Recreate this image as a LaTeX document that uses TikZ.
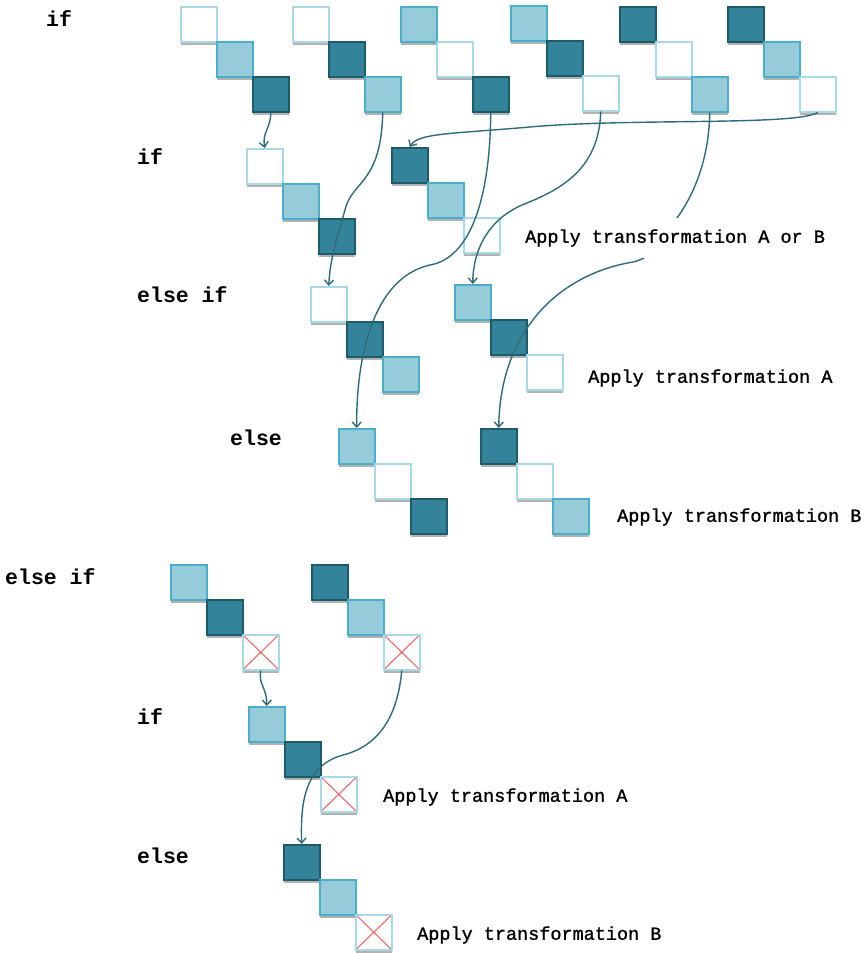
\documentclass[tikz,border=0pt]{standalone}
\usepackage{fontspec}
\newfontfamily\cour{Liberation Mono}
\newfontfamily\courm{Liberation Mono}[FakeBold=1.2]
\usetikzlibrary{shadows,arrows.meta}
\definecolor{lfill}{HTML}{96CBDA}
\definecolor{ldraw}{HTML}{4AAFCB}
\definecolor{dfill}{HTML}{33849A}
\definecolor{ddraw}{HTML}{1F5A69}
\definecolor{wdraw}{HTML}{A8D9E8}
\definecolor{arrowc}{HTML}{2F6B79}
\definecolor{redx}{HTML}{F06868}
\newcommand\mygroup[6]{%
  \node[sq,#4] (#1a) at (#2,#3) {};
  \node[sq,#5] (#1b) at (#2+36,#3+35) {};
  \node[sq,#6] (#1c) at (#2+72,#3+70) {};}
\begin{document}
\begin{tikzpicture}[x=1pt,y=-1pt,
  sq/.style={anchor=north west, minimum width=36pt, minimum height=35pt, inner sep=0pt,
    line width=1.5pt, drop shadow={shadow xshift=0pt, shadow yshift=-3pt, opacity=0.55, fill=black!55}},
  cellL/.style={fill=lfill, draw=ldraw},
  cellD/.style={fill=dfill, draw=ddraw},
  cellW/.style={fill=white, draw=wdraw},
  cellX/.style={fill=white, draw=wdraw, path picture={
     \draw[redx, line width=1.1pt] (path picture bounding box.north west) -- (path picture bounding box.south east)
       (path picture bounding box.north east) -- (path picture bounding box.south west);}},
  conn/.style={draw=arrowc, line width=1.4pt, -{Straight Barb[length=5pt,width=9pt]}},
  kw/.style={anchor=west, inner sep=0pt, font=\cour\bfseries\fontsize{21.5}{24}\selectfont},
  note/.style={anchor=west, inner sep=0pt, font=\courm\fontsize{18.5}{22}\selectfont}]
\useasboundingbox (0,0) rectangle (861,953);

% top row
\mygroup{ga}{180}{6}{cellW}{cellL}{cellD}
\mygroup{gb}{292}{6}{cellW}{cellD}{cellL}
\mygroup{gc}{400}{6}{cellL}{cellW}{cellD}
\mygroup{gd}{510}{5}{cellL}{cellD}{cellW}
\mygroup{ge}{619}{6}{cellD}{cellW}{cellL}
\mygroup{gf}{727}{6}{cellD}{cellL}{cellW}
% if
\mygroup{ha}{246}{148}{cellW}{cellL}{cellD}
\mygroup{hb}{391}{147}{cellD}{cellL}{cellW}
% else if
\mygroup{ia}{310}{286}{cellW}{cellD}{cellL}
\mygroup{ib}{454}{284}{cellL}{cellD}{cellW}
% else
\mygroup{ja}{338}{428}{cellL}{cellW}{cellD}
\mygroup{jb}{480}{428}{cellD}{cellW}{cellL}
% bottom section
\mygroup{ka}{170}{564}{cellL}{cellD}{cellX}
\mygroup{kb}{311}{564}{cellD}{cellL}{cellX}
\mygroup{la}{248}{706}{cellL}{cellD}{cellX}
\mygroup{ma}{283}{844}{cellD}{cellL}{cellX}

% keyword labels
\node[kw] (k1) at (46,19) {if};
\node[kw] (k2) at (137,157) {if};
\node[kw] (k3) at (137,295) {else if};
\node[kw] (k4) at (230,438) {else};
\node[kw] (k5) at (5,577) {else if};
\node[kw] (k6) at (137,717) {if};
\node[kw] (k7) at (137,856) {else};

% connectors
\draw[conn] (gac.south) .. controls (271,128) and (262,132) .. (haa.north);
\draw[conn] (gbc.south) .. controls (381,185) and (352,180) .. (345,210) .. controls (338,235) and (330,258) .. (iaa.north);
\draw[conn] (gcc.south) .. controls (490,200) and (470,258) .. (430,265) .. controls (372,278) and (356,360) .. (jaa.north);
\draw[conn] (gdc.south) .. controls (599,170) and (560,190) .. (522,205) .. controls (488,220) and (473,250) .. (iba.north);
\draw[conn] (gec.south) .. controls (709,165) and (690,200) .. (677,218) .. controls (662,242) and (652,258) .. (633,262) .. controls (560,274) and (500,330) .. (jba.north);
\draw[conn] (gfc.south) .. controls (795,126) and (630,118) .. (530,127) .. controls (450,134) and (418,133) .. (hba.north);
\draw[conn] (kac.south) .. controls (258,684) and (267,688) .. (laa.north);
\draw[conn] (kbc.south) .. controls (398,712) and (382,745) .. (343,755) .. controls (306,765) and (300,800) .. (maa.north);

% notes
\node[note, fill=white, inner xsep=1pt, inner ysep=11pt] (n1) at (524,238) {Apply transformation A or B};
\node[note] (n2) at (588,378) {Apply transformation A};
\node[note] (n3) at (617,517) {Apply transformation B};
\node[note] (n4) at (383,797) {Apply transformation A};
\node[note] (n5) at (417,935) {Apply transformation B};
\end{tikzpicture}
\end{document}
